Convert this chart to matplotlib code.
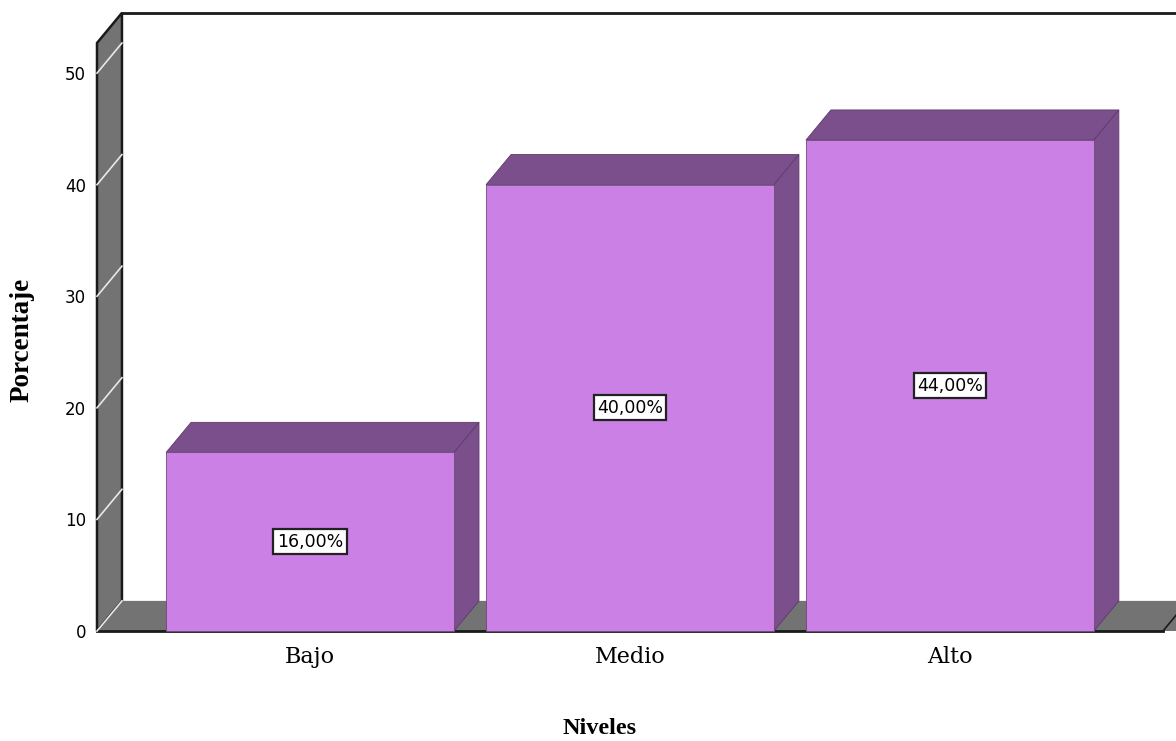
import numpy as np
import matplotlib.pyplot as plt
from matplotlib.patches import Polygon, Rectangle

niveles = ['Bajo', 'Medio', 'Alto']
porcentaje = [16.0, 40.0, 44.0]
etiquetas = ['16,00%', '40,00%', '44,00%']
marcas_y = [0, 10, 20, 30, 40, 50]

color_frente = '#cb80e6'
color_sombra = '#7b4f8c'
color_pared = '#737373'

W, H = 1176, 741
fig = plt.figure(figsize=(W / 100, H / 100), dpi=100)
ax = fig.add_axes([97 / W, 110 / H, (1163 - 97) / W, (631 - 43) / H])

x = np.arange(len(niveles))
ancho = 0.9
xmin, xmax = -0.666, 2.666
ymax = 52.7
# desplazamiento de profundidad (efecto 3D)
dx, dy = 0.078, 2.7

ax.set_xlim(xmin, xmax)
ax.set_ylim(0, ymax)

# pared izquierda
ax.add_patch(Polygon([(xmin, 0), (xmin, ymax), (xmin + dx, ymax + dy), (xmin + dx, dy)],
                     closed=True, facecolor=color_pared, edgecolor='#1a1a1a', lw=1.8,
                     clip_on=False, zorder=1))
# suelo
ax.add_patch(Polygon([(xmin, 0), (xmin + dx, dy), (xmax + 2 * dx, dy), (xmax + dx, 0)],
                     closed=True, facecolor=color_pared, edgecolor='none',
                     clip_on=False, zorder=1))
ax.plot([xmin, xmax], [0, 0], color='#1a1a1a', lw=2, clip_on=False, zorder=2)
ax.plot([xmax, xmax + dx], [0, dy], color='#1a1a1a', lw=1.2, clip_on=False, zorder=2)
# borde superior de la pared del fondo
ax.plot([xmin + dx, xmax + 2 * dx], [ymax + dy, ymax + dy], color='#1a1a1a', lw=2,
        clip_on=False, zorder=2)

# marcas diagonales sobre la pared
for t in marcas_y:
    ax.plot([xmin, xmin + dx], [t, t + dy], color='#e8e8e8', lw=1.2, clip_on=False, zorder=2)

# barras
for xi, v, lab in zip(x, porcentaje, etiquetas):
    xl, xr = xi - ancho / 2, xi + ancho / 2
    ax.add_patch(Polygon([(xl, v), (xl + dx, v + dy), (xr + dx, v + dy), (xr, v)],
                         closed=True, facecolor=color_sombra, edgecolor='#5e3a6b', lw=0.6,
                         clip_on=False, zorder=3))
    ax.add_patch(Polygon([(xr, 0), (xr, v), (xr + dx, v + dy), (xr + dx, dy)],
                         closed=True, facecolor=color_sombra, edgecolor='#5e3a6b', lw=0.6,
                         clip_on=False, zorder=3))
    ax.add_patch(Rectangle((xl, 0), ancho, v, facecolor=color_frente, edgecolor='#6b4a78',
                           lw=0.6, clip_on=False, zorder=4))
    ax.text(xi, v / 2, lab, ha='center', va='center', fontsize=12.5, family='DejaVu Sans',
            zorder=5,
            bbox=dict(boxstyle='square,pad=0.2', facecolor='white', edgecolor='#222222', lw=1.6))

for s in ax.spines.values():
    s.set_visible(False)

ax.set_yticks(marcas_y)
ax.set_yticklabels([str(t) for t in marcas_y], fontsize=12, family='DejaVu Sans')
ax.tick_params(axis='y', length=0, pad=8)
ax.set_xticks(x)
ax.set_xticklabels(niveles, fontsize=16, family='DejaVu Serif')
ax.tick_params(axis='x', length=0, pad=11)

fig.text(600 / W, 1 - 728 / H, 'Niveles', ha='center', va='center', fontsize=17.5,
         fontweight='bold', family='Liberation Serif')
fig.text(22 / W, 1 - 340 / H, 'Porcentaje', ha='center', va='center', fontsize=19.5,
         fontweight='bold', family='Liberation Serif', rotation=90)

fig.savefig('out.png', dpi=100)
